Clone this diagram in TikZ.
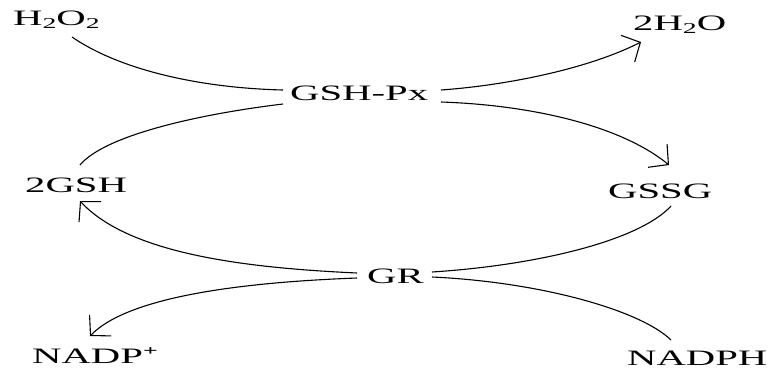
\documentclass[tikz,border=0pt]{standalone}
\usepackage{fontspec}
\setmainfont{Liberation Serif}[FakeStretch=1.85]
\usetikzlibrary{arrows.meta}
\newcommand{\subtwo}{{\fontsize{15}{15}\selectfont\raisebox{-3.5pt}{2}}}
\newcommand{\supplus}{{\fontsize{14}{14}\selectfont\raisebox{8pt}{\textbf{+}}}}
\tikzset{
  lbl/.style={anchor=base west, inner sep=0pt, font=\fontsize{22}{22}\selectfont},
  link/.style={line width=1.1pt},
  arr/.style={link, -{Straight Barb[length=14pt,width=30pt,line width=1.1pt]}}
}
\begin{document}
\begin{tikzpicture}[x=1pt,y=-1pt]
\useasboundingbox (0,0) rectangle (768,376);
\node[lbl] (h2o2) at (13,25) {H\subtwo O\subtwo};
\node[lbl] (h2o) at (633,30) {2H\subtwo O};
\node[lbl] (gshpx) at (290,100) {GSH-Px};
\node[lbl] (gssg) at (608,198) {GSSG};
\node[lbl] (gsh) at (25,192) {2GSH};
\node[lbl] (gr) at (367,283) {GR};
\node[lbl] (nadp) at (32,363) {NADP\supplus};
\node[lbl] (nadph) at (627,365) {NADPH};
% GSH-Px cycle
\draw[link] ([shift={(59,12)}]h2o2.base west) .. controls (120,70) and (200,88) .. ([shift={(-7,-10)}]gshpx.base west);
\draw[link] ([shift={(-7,4)}]gshpx.base west) .. controls (200,114) and (105,135) .. ([shift={(55,-27)}]gsh.base west);
\draw[arr] ([shift={(151,-10)}]gshpx.base west) .. controls (510,85) and (590,68) .. ([shift={(8,12)}]h2o.base west);
\draw[arr] ([shift={(151,2)}]gshpx.base west) .. controls (530,105) and (620,125) .. ([shift={(61,-33)}]gssg.base west);
% GR cycle
\draw[arr] ([shift={(-10,-10)}]gr.base west) .. controls (250,268) and (130,255) .. ([shift={(55,9)}]gsh.base west);
\draw[arr] ([shift={(-10,-5)}]gr.base west) .. controls (250,282) and (130,295) .. ([shift={(58,-27)}]nadp.base west);
\draw[link] ([shift={(65,-11)}]gr.base west) .. controls (540,265) and (640,240) .. ([shift={(63,8)}]gssg.base west);
\draw[link] ([shift={(65,-6)}]gr.base west) .. controls (540,282) and (640,310) .. ([shift={(44,-25)}]nadph.base west);
\end{tikzpicture}
\end{document}
